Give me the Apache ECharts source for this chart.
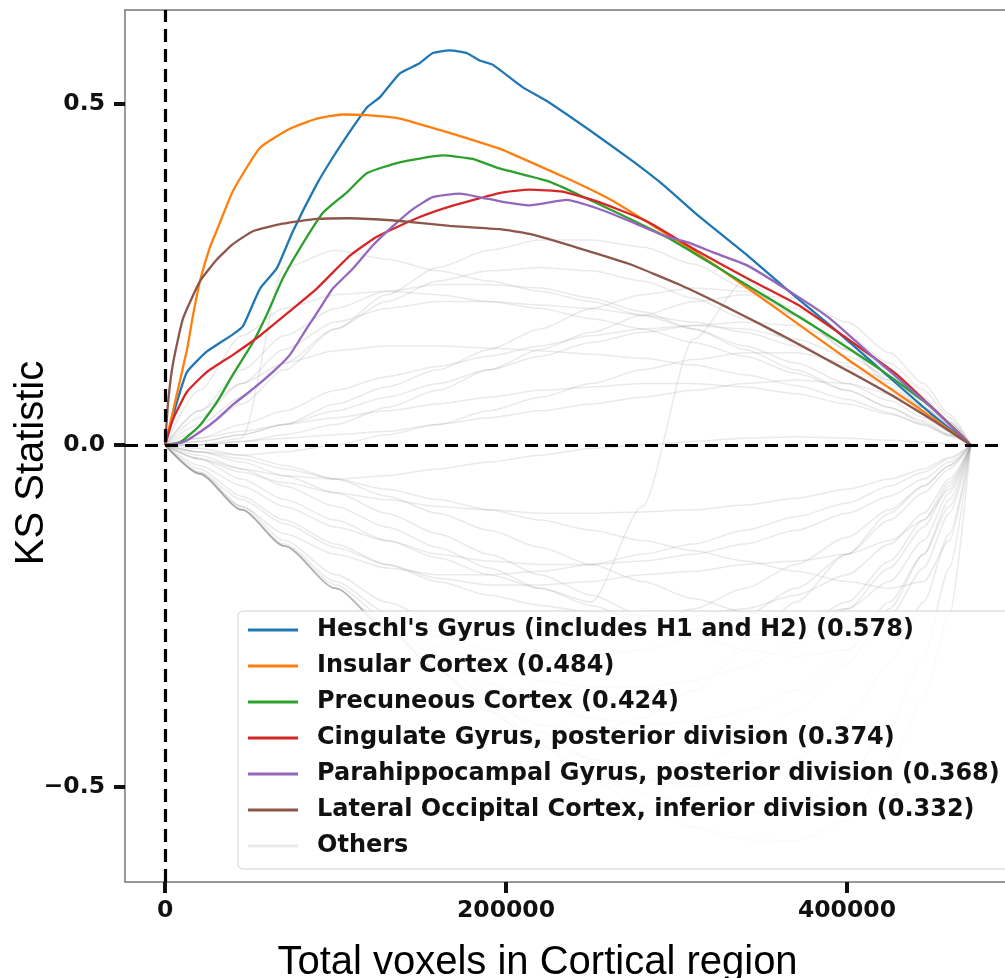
<!DOCTYPE html>
<html>
<head>
<meta charset="utf-8">
<title>KS Statistic by cortical region</title>
<script src="https://cdn.jsdelivr.net/npm/echarts@6/dist/echarts.min.js"></script>
<style>
  html, body { margin: 0; padding: 0; background: #fff; }
  #chart { width: 1005px; height: 978px; }
</style>
</head>
<body>
<div id="chart"></div>
<script>
// Running KS statistic against cumulative voxel count, one curve per region.
// Points are [voxels, KS].
const heschl = [[0,0],[7000,0.063],[12900,0.107],[24600,0.137],[39800,0.162],[45700,0.174],[55700,0.229],[65600,0.259],[75000,0.313],[89000,0.382],[98400,0.421],[110100,0.465],[118300,0.494],[125900,0.509],[137600,0.544],[149300,0.559],[157000,0.574],[166900,0.578],[176900,0.574],[184500,0.563],[192100,0.557],[209700,0.524],[223700,0.504],[253000,0.454],[274700,0.415],[292200,0.381],[312200,0.337],[341400,0.278],[366600,0.224],[390600,0.174],[419900,0.110],[449200,0.046],[472600,0]];
const insular = [[0,0],[4700,0.05],[12900,0.14],[16400,0.19],[20500,0.24],[26400,0.29],[30500,0.315],[39800,0.372],[55600,0.435],[73200,0.463],[89000,0.478],[104200,0.484],[118300,0.483],[137600,0.478],[166900,0.457],[196200,0.434],[203800,0.426],[238900,0.387],[263000,0.357],[294000,0.309],[321500,0.265],[360800,0.196],[400000,0.126],[439200,0.059],[472600,0]];
const precuneous = [[0,0],[8800,0.004],[20500,0.029],[30500,0.063],[39800,0.103],[51500,0.150],[59700,0.191],[69100,0.244],[79100,0.288],[92600,0.340],[106700,0.370],[118300,0.398],[137600,0.414],[162800,0.424],[180400,0.419],[196200,0.405],[223700,0.387],[243000,0.366],[292200,0.307],[312200,0.278],[341400,0.234],[380700,0.174],[419900,0.110],[449200,0.056],[472600,0]];
const cingulate = [[0,0],[4700,0.038],[12900,0.078],[24600,0.107],[39800,0.132],[55600,0.160],[73200,0.196],[89000,0.229],[108300,0.277],[124200,0.305],[147600,0.332],[166900,0.349],[196200,0.369],[213800,0.374],[233100,0.371],[253000,0.357],[282300,0.328],[312200,0.284],[341400,0.244],[370700,0.206],[400000,0.156],[429300,0.103],[458600,0.034],[472600,0]];
const parahippocampal = [[0,0],[10500,0.004],[20500,0.019],[30500,0.038],[39800,0.059],[51500,0.082],[63300,0.107],[73200,0.132],[83200,0.171],[90800,0.200],[98400,0.229],[110100,0.258],[121800,0.292],[133500,0.320],[145200,0.345],[157000,0.363],[172800,0.368],[186200,0.362],[196200,0.357],[213800,0.351],[235400,0.359],[253000,0.347],[272300,0.328],[292200,0.307],[306300,0.297],[321500,0.282],[341400,0.263],[370700,0.218],[390600,0.184],[419900,0.119],[449200,0.056],[472600,0]];
const lateralOccipital = [[0,0],[1800,0.063],[4700,0.120],[10500,0.185],[20500,0.240],[30500,0.272],[39800,0.294],[51500,0.313],[69100,0.324],[89000,0.331],[108300,0.332],[137600,0.328],[166900,0.321],[196200,0.316],[213800,0.309],[243000,0.288],[272300,0.265],[301600,0.235],[330900,0.200],[360800,0.162],[390600,0.122],[419900,0.082],[449200,0.038],[472600,0]];

const regionNames = [
  "Heschl's Gyrus (includes H1 and H2)",
  'Insular Cortex',
  'Precuneous Cortex',
  'Cingulate Gyrus, posterior division',
  'Parahippocampal Gyrus, posterior division',
  'Lateral Occipital Cortex, inferior division'
];
const regionCurves = [heschl, insular, precuneous, cingulate, parahippocampal, lateralOccipital];
const regionColors = ['#1f77b4', '#ff7f0e', '#2ca02c', '#d62728', '#9467bd', '#8c564b'];

// Remaining regions, sampled on a shared voxel grid.
const othersX = [0, 20000, 45000, 70000, 100000, 130000, 160000, 190000, 220000, 250000, 280000, 310000, 340000, 370000, 400000, 425000, 445000, 460000, 472600];
const othersY = [
  [0, 0, 0.01, 0.26, 0.285, 0.272, 0.255, 0.24, 0.225, 0.21, 0.19, 0.17, 0.145, 0.12, 0.09, 0.065, 0.04, 0.02, 0],
  [0, 0.03, 0.07, 0.12, 0.17, 0.21, 0.24, 0.255, 0.26, 0.255, 0.24, 0.215, 0.185, 0.15, 0.11, 0.075, 0.045, 0.02, 0],
  [0, 0.05, 0.11, 0.16, 0.2, 0.225, 0.235, 0.235, 0.23, 0.215, 0.195, 0.17, 0.14, 0.11, 0.08, 0.055, 0.032, 0.014, 0],
  [0, 0.05, 0.09, 0.12, 0.138, 0.145, 0.145, 0.142, 0.138, 0.133, 0.127, 0.117, 0.103, 0.087, 0.067, 0.047, 0.029, 0.013, 0],
  [0, 0.005, 0.015, 0.03, 0.05, 0.07, 0.09, 0.11, 0.13, 0.15, 0.165, 0.175, 0.18, 0.175, 0.15, 0.11, 0.07, 0.035, 0],
  [0, 0.005, 0.015, 0.03, 0.06, 0.085, 0.11, 0.14, 0.17, 0.2, 0.22, 0.23, 0.225, 0.2, 0.16, 0.12, 0.08, 0.04, 0],
  [0, 0, 0.005, 0.015, 0.03, 0.055, 0.08, 0.11, 0.14, 0.165, 0.19, 0.21, 0.22, 0.215, 0.18, 0.135, 0.09, 0.045, 0],
  [0, 0.01, 0.02, 0.03, 0.04, 0.05, 0.06, 0.07, 0.08, 0.085, 0.09, 0.09, 0.085, 0.075, 0.06, 0.045, 0.03, 0.015, 0],
  [0, -0.01, -0.015, -0.01, 0, 0.015, 0.03, 0.05, 0.07, 0.09, 0.11, 0.125, 0.135, 0.135, 0.12, 0.095, 0.065, 0.033, 0],
  [0, 0.04, 0.09, 0.14, 0.18, 0.2, 0.21, 0.21, 0.205, 0.2, 0.19, 0.18, 0.165, 0.145, 0.115, 0.085, 0.055, 0.027, 0],
  [0, 0.08, 0.16, 0.2, 0.22, 0.225, 0.22, 0.21, 0.2, 0.185, 0.17, 0.15, 0.13, 0.105, 0.08, 0.055, 0.035, 0.016, 0],
  [0, 0.02, 0.06, 0.11, 0.17, 0.22, 0.26, 0.285, 0.3, 0.3, 0.29, 0.265, 0.23, 0.19, 0.14, 0.095, 0.06, 0.028, 0],
  [0, 0.01, 0.03, 0.05, 0.08, 0.1, 0.115, 0.13, 0.145, 0.16, 0.17, 0.175, 0.17, 0.155, 0.13, 0.1, 0.065, 0.033, 0],
  [0, 0, 0.005, 0.01, 0.015, 0.02, 0.03, 0.04, 0.05, 0.06, 0.07, 0.08, 0.09, 0.095, 0.09, 0.075, 0.055, 0.03, 0],
  [0, -0.02, -0.05, -0.08, -0.11, -0.14, -0.165, -0.19, -0.21, -0.23, -0.09, 0.155, 0.24, 0.19, 0.14, 0.09, 0.055, 0.025, 0],
  [0, -0.042, -0.095, -0.148, -0.21, -0.27, -0.33, -0.39, -0.44, -0.49, -0.53, -0.56, -0.578, -0.58, -0.55, -0.47, -0.37, -0.25, 0],
  [0, -0.042, -0.095, -0.148, -0.21, -0.265, -0.31, -0.35, -0.38, -0.4, -0.41, -0.405, -0.39, -0.36, -0.3, -0.23, -0.16, -0.09, 0],
  [0, -0.042, -0.094, -0.145, -0.2, -0.245, -0.28, -0.3, -0.31, -0.31, -0.3, -0.28, -0.25, -0.21, -0.16, -0.11, -0.07, -0.035, 0],
  [0, -0.04, -0.09, -0.14, -0.19, -0.23, -0.26, -0.275, -0.28, -0.275, -0.26, -0.24, -0.21, -0.175, -0.135, -0.095, -0.06, -0.03, 0],
  [0, -0.042, -0.095, -0.148, -0.21, -0.27, -0.32, -0.37, -0.42, -0.46, -0.49, -0.5, -0.49, -0.46, -0.4, -0.32, -0.23, -0.13, 0],
  [0, -0.03, -0.06, -0.09, -0.12, -0.14, -0.16, -0.17, -0.175, -0.175, -0.17, -0.16, -0.145, -0.125, -0.1, -0.075, -0.05, -0.025, 0],
  [0, -0.02, -0.04, -0.055, -0.07, -0.08, -0.09, -0.095, -0.1, -0.1, -0.098, -0.095, -0.088, -0.078, -0.065, -0.05, -0.035, -0.018, 0],
  [0, -0.042, -0.09, -0.13, -0.16, -0.18, -0.19, -0.19, -0.185, -0.175, -0.16, -0.145, -0.125, -0.105, -0.085, -0.06, -0.04, -0.02, 0],
  [0, -0.01, -0.025, -0.045, -0.07, -0.1, -0.13, -0.16, -0.19, -0.22, -0.25, -0.27, -0.28, -0.27, -0.23, -0.17, -0.11, -0.055, 0],
  [0, -0.042, -0.095, -0.148, -0.21, -0.27, -0.33, -0.385, -0.43, -0.46, -0.475, -0.47, -0.44, -0.39, -0.32, -0.24, -0.16, -0.08, 0],
  [0, -0.005, -0.015, -0.03, -0.05, -0.075, -0.1, -0.125, -0.15, -0.175, -0.2, -0.225, -0.245, -0.255, -0.24, -0.2, -0.14, -0.07, 0],
  [0, -0.035, -0.075, -0.11, -0.145, -0.175, -0.2, -0.22, -0.235, -0.245, -0.25, -0.25, -0.24, -0.22, -0.19, -0.145, -0.1, -0.05, 0],
  [0, -0.042, -0.095, -0.148, -0.205, -0.255, -0.295, -0.325, -0.345, -0.355, -0.355, -0.345, -0.325, -0.29, -0.24, -0.18, -0.12, -0.06, 0],
  [0, -0.02, -0.035, -0.045, -0.05, -0.045, -0.035, -0.025, -0.015, -0.005, 0, 0.005, 0.01, 0.012, 0.01, 0.007, 0.004, 0.002, 0],
  [0, -0.042, -0.095, -0.148, -0.21, -0.27, -0.33, -0.39, -0.44, -0.48, -0.51, -0.53, -0.54, -0.53, -0.49, -0.41, -0.31, -0.18, 0],
  [0, -0.015, -0.035, -0.06, -0.09, -0.12, -0.15, -0.18, -0.21, -0.235, -0.26, -0.28, -0.3, -0.31, -0.3, -0.25, -0.18, -0.1, 0],
  [0, -0.042, -0.095, -0.148, -0.21, -0.27, -0.33, -0.38, -0.41, -0.42, -0.4, -0.36, -0.3, -0.23, -0.16, -0.1, -0.06, -0.03, 0],
  [0, -0.04, -0.08, -0.115, -0.15, -0.175, -0.195, -0.205, -0.205, -0.2, -0.19, -0.185, -0.175, -0.17, -0.16, -0.14, -0.11, -0.065, 0],
  [0, -0.01, -0.02, -0.035, -0.05, -0.065, -0.08, -0.095, -0.11, -0.125, -0.14, -0.155, -0.17, -0.185, -0.2, -0.21, -0.2, -0.14, 0]
];

const xTicks = [0, 200000, 400000];
const yTicks = [-0.5, 0, 0.5];
const othersName = 'Others';

// Legend label carries each region's peak KS value.
const regionLabels = regionNames.map((name, i) => {
  const peak = Math.max(...regionCurves[i].map(p => p[1]));
  return name + ' (' + peak.toFixed(3) + ')';
});

const tickFont = { fontFamily: 'DejaVu Sans', fontWeight: 'bold', fontSize: 23.5, color: '#111' };
const titleFont = { fontFamily: 'Liberation Sans', fontSize: 40, color: '#000' };
const spine = { show: true, onZero: false, lineStyle: { color: '#777', width: 1.5 } };

const series = [];
othersY.forEach(ys => {
  series.push({
    name: othersName,
    type: 'line',
    data: othersX.map((x, k) => [x, ys[k]]),
    symbol: 'none',
    smooth: 0.25,
    smoothMonotone: 'x',
    silent: true,
    z: 1,
    emphasis: { disabled: true },
    lineStyle: { color: 'rgba(150,150,150,0.2)', width: 1.5 },
    itemStyle: { color: 'rgba(150,150,150,0.2)' }
  });
});

// Dashed reference lines through the origin.
series.push({
  type: 'line',
  data: [],
  silent: true,
  z: 2,
  markLine: {
    silent: true,
    symbol: 'none',
    label: { show: false },
    animation: false,
    lineStyle: { color: '#000', width: 3.2, type: [13, 7] },
    data: [{ xAxis: 0 }, { yAxis: 0 }]
  }
});

regionCurves.forEach((curve, i) => {
  series.push({
    name: regionLabels[i],
    type: 'line',
    data: curve,
    symbol: 'none',
    smooth: 0.15,
    z: 3,
    emphasis: { disabled: true },
    lineStyle: { color: regionColors[i], width: 2.3 },
    itemStyle: { color: regionColors[i] }
  });
});

const chart = echarts.init(document.getElementById('chart'), null, { renderer: 'canvas' });
chart.setOption({
  animation: false,
  backgroundColor: '#fff',
  grid: { left: 125, top: 10, right: 0, bottom: 96, containLabel: false, outerBoundsMode: 'none' },
  xAxis: [{
    type: 'value',
    min: -23500,
    max: 492700,
    name: 'Total voxels in Cortical region',
    nameLocation: 'middle',
    nameGap: 61,
    nameMoveOverlap: false,
    nameTextStyle: Object.assign({ padding: [0, 55, 0, 0] }, titleFont),
    axisLine: spine,
    axisTick: { show: true, customValues: xTicks, length: 11, lineStyle: { color: '#111', width: 4 } },
    axisLabel: Object.assign({ customValues: xTicks, margin: 17, formatter: v => String(v) }, tickFont),
    splitLine: { show: false }
  }, {
    type: 'value',
    position: 'top',
    min: -23500,
    max: 492700,
    axisLine: spine,
    axisTick: { show: false },
    axisLabel: { show: false },
    splitLine: { show: false }
  }],
  yAxis: {
    type: 'value',
    min: -0.640,
    max: 0.637,
    name: 'KS Statistic',
    nameLocation: 'middle',
    nameGap: 73,
    nameMoveOverlap: false,
    nameTextStyle: Object.assign({ padding: [0, 34, 0, 0] }, titleFont),
    axisLine: spine,
    axisTick: { show: true, customValues: yTicks, length: 11, lineStyle: { color: '#111', width: 4 } },
    axisLabel: Object.assign({
      customValues: yTicks,
      margin: 20,
      formatter: v => (v < 0 ? '\u2212' : '') + Math.abs(v).toFixed(1)
    }, tickFont),
    splitLine: { show: false }
  },
  legend: {
    data: regionLabels.concat([othersName]),
    orient: 'vertical',
    left: 238,
    top: 611,
    padding: [6, 60, 10, 10],
    itemGap: 10,
    itemWidth: 50,
    itemHeight: 3,
    icon: 'rect',
    backgroundColor: 'rgba(255,255,255,0.8)',
    borderColor: '#d0d0d0',
    borderWidth: 1,
    borderRadius: 5,
    z: 10,
    textStyle: Object.assign({}, tickFont, { fontSize: 24, lineHeight: 26, padding: [0, 0, 0, 14] })
  },
  series: series
});
</script>
</body>
</html>
